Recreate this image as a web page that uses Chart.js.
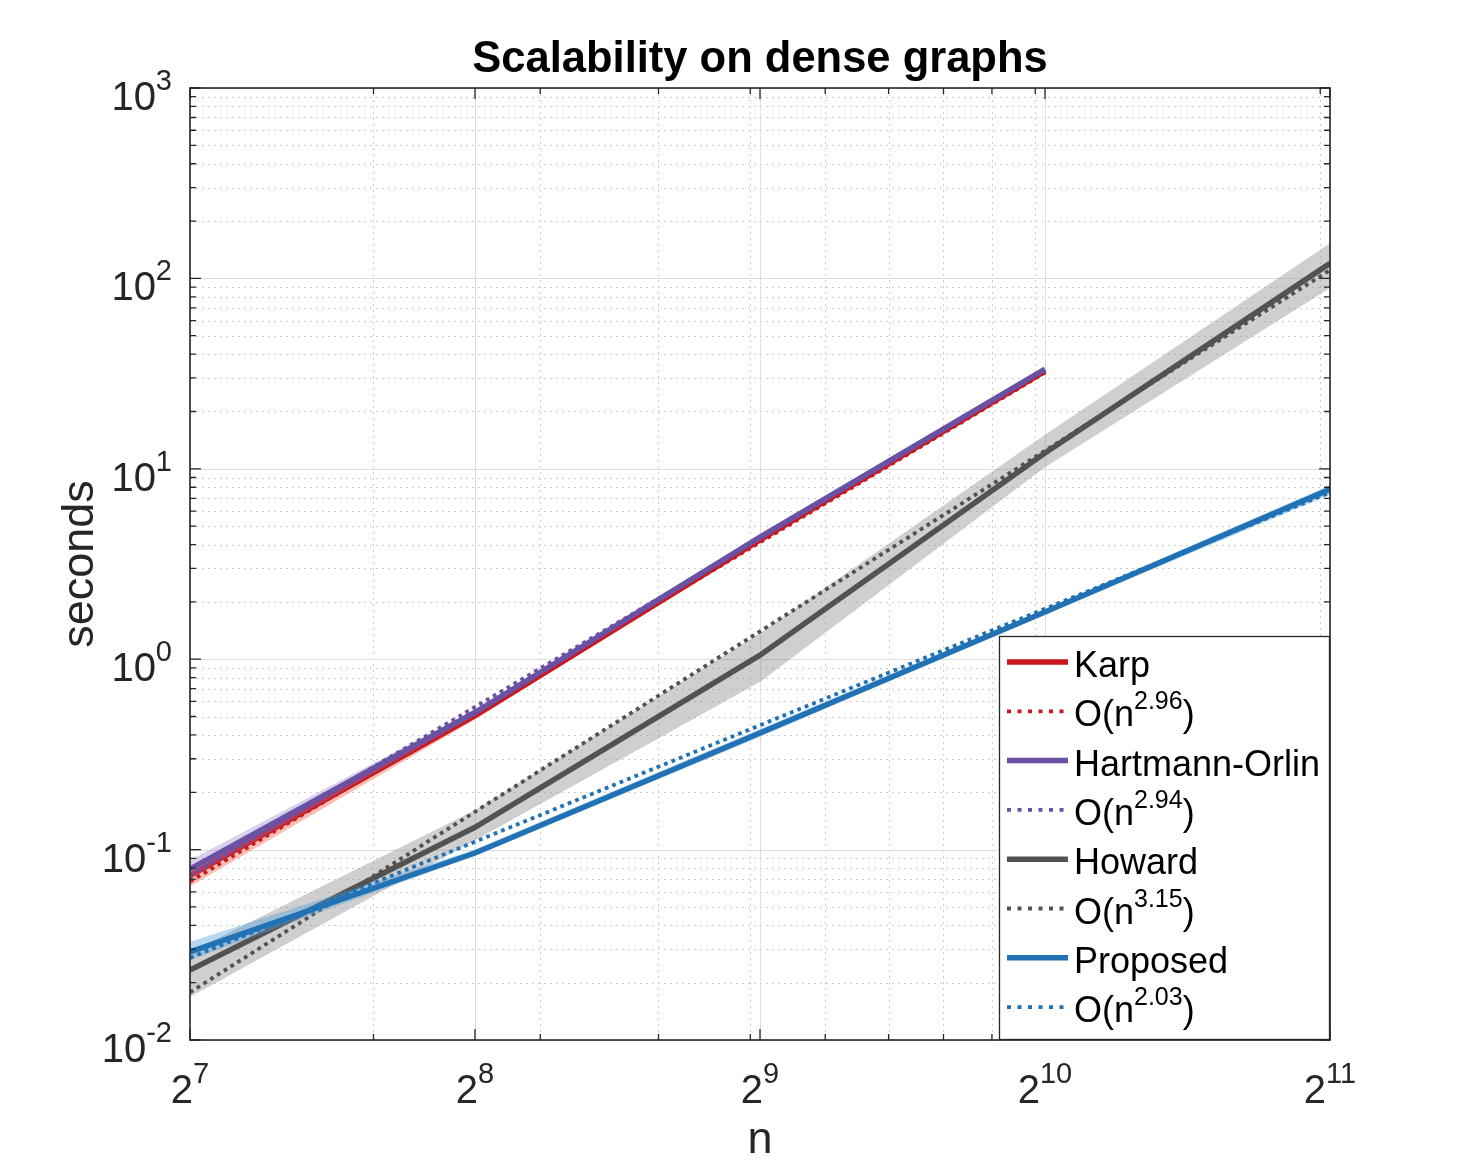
<!DOCTYPE html>
<html>
<head>
<meta charset="utf-8">
<title>Scalability on dense graphs</title>
<script src="https://cdn.jsdelivr.net/npm/chart.js@4.4.0/dist/chart.umd.min.js"></script>
<style>
  html, body { margin: 0; padding: 0; background: #fff; }
  #wrap { width: 1470px; height: 1168px; }
</style>
</head>
<body>
<div id="wrap"><canvas id="scalabilityChart" width="1470" height="1168"></canvas></div>
<script>
// graph sizes n and run times (seconds)
const sizes = [128, 256, 512, 1024, 2048];

const karpMean = [0.073, 0.505, 4.23, 32.6];
const karpLow = [0.064, 0.482, 4.10, 31.6];
const karpHigh = [0.080, 0.522, 4.34, 33.4];
const karpFit = [0.068, 0.529, 4.11, 32.0];

const hoMean = [0.079, 0.525, 4.38, 33.4];
const hoLow = [0.071, 0.505, 4.25, 32.5];
const hoHigh = [0.088, 0.545, 4.50, 34.4];
const hoFit = [0.0731, 0.561, 4.30, 33.0];

const howardMean = [0.0233, 0.131, 1.05, 12.1, 120];
const howardLow = [0.0168, 0.112, 0.76, 10.2, 89];
const howardHigh = [0.0290, 0.161, 1.37, 15.1, 153];
const howardFit = [0.0178, 0.158, 1.40, 12.45, 110.5];

const proposedMean = [0.029, 0.096, 0.41, 1.77, 7.8];
const proposedLow = [0.0263, 0.093, 0.39, 1.72, 7.3];
const proposedHigh = [0.0328, 0.100, 0.43, 1.83, 8.2];
const proposedFit = [0.027, 0.110, 0.450, 1.84, 7.51];

const legendLabels = ['Karp', 'O(n^{2.96})', 'Hartmann-Orlin', 'O(n^{2.94})',
                      'Howard', 'O(n^{3.15})', 'Proposed', 'O(n^{2.03})'];
const xTickExps = [7, 8, 9, 10, 11];
const yTickExps = [-2, -1, 0, 1, 2, 3];

const FONT = '"Liberation Sans", Arial, Helvetica, sans-serif';
const AXIS_COLOR = '#262626';

const toPoints = (vals) => vals.map((v, i) => ({ x: sizes[i], y: v }));

// upper edge + lower edge filled back to it
const band = (low, high, fillColor) => [
  { data: toPoints(high), showLine: true, borderWidth: 0, pointRadius: 0, fill: false, isBand: true },
  { data: toPoints(low), showLine: true, borderWidth: 0, pointRadius: 0, fill: '-1', backgroundColor: fillColor, isBand: true }
];
const solid = (vals, color, label) => ({
  label: label, data: toPoints(vals), showLine: true, borderColor: color, borderWidth: 5.5,
  pointRadius: 0, fill: false
});
const dotted = (vals, color, label) => ({
  label: label, data: toPoints(vals), showLine: true, borderColor: color, borderWidth: 3.8,
  borderDash: [3.8, 4.2], borderCapStyle: 'butt', pointRadius: 0, fill: false
});

const datasets = [
  ...band(karpLow, karpHigh, 'rgba(246, 110, 90, 0.45)'),
  solid(karpMean, '#CB181D', legendLabels[0]),
  dotted(karpFit, '#CB181D', legendLabels[1]),
  ...band(hoLow, hoHigh, 'rgba(140, 120, 200, 0.35)'),
  solid(hoMean, '#6A51A3', legendLabels[2]),
  dotted(hoFit, '#6A51A3', legendLabels[3]),
  ...band(howardLow, howardHigh, 'rgba(140, 140, 140, 0.42)'),
  solid(howardMean, '#525252', legendLabels[4]),
  dotted(howardFit, '#525252', legendLabels[5]),
  ...band(proposedLow, proposedHigh, 'rgba(80, 160, 220, 0.4)'),
  solid(proposedMean, '#2171B5', legendLabels[6]),
  dotted(proposedFit, '#2171B5', legendLabels[7])
];
// later datasets on top, like the plotting order
datasets.forEach((d, i) => { d.order = 1000 - i; d.clip = 0; });

// label like 'O(n^{2.96})' -> pieces with superscript flag
function splitSup(text) {
  const parts = [];
  const re = /\^\{([^}]*)\}/g;
  let last = 0, m;
  while ((m = re.exec(text)) !== null) {
    if (m.index > last) parts.push({ t: text.slice(last, m.index), sup: false });
    parts.push({ t: m[1], sup: true });
    last = re.lastIndex;
  }
  if (last < text.length) parts.push({ t: text.slice(last), sup: false });
  return parts;
}

function richWidth(ctx, parts, baseFont, supFont) {
  let w = 0;
  parts.forEach(p => { ctx.font = p.sup ? supFont : baseFont; w += ctx.measureText(p.t).width; });
  return w;
}

function drawRich(ctx, parts, x, y, baseFont, supFont, rise) {
  ctx.textAlign = 'left';
  ctx.textBaseline = 'alphabetic';
  parts.forEach(p => {
    ctx.font = p.sup ? supFont : baseFont;
    ctx.fillText(p.t, x, p.sup ? y - rise : y);
    x += ctx.measureText(p.t).width;
  });
}

function minorValues(lo, hi, decades) {
  const out = [];
  decades.forEach(d => {
    for (let m = 1; m <= 9; m++) {
      const v = m * d;
      if (v > lo && v < hi) out.push(v);
    }
  });
  return out;
}

const matlabAxes = {
  id: 'matlabAxes',
  beforeDatasetsDraw(chart) {
    const { ctx, chartArea: a, scales: { x, y } } = chart;
    const xMajor = xTickExps.map(e => Math.pow(2, e));
    const yMajor = yTickExps.map(e => Math.pow(10, e));
    const xMinor = minorValues(128, 2048, [100, 1000]).filter(v => !xMajor.includes(v));
    const yMinor = minorValues(0.01, 1000, [0.01, 0.1, 1, 10, 100]).filter(v => !yMajor.includes(v));
    ctx.save();
    ctx.lineWidth = 1;
    ctx.strokeStyle = '#cdcdcd';
    ctx.setLineDash([2, 4]);
    ctx.beginPath();
    xMinor.forEach(v => { const p = Math.round(x.getPixelForValue(v)) + 0.5; ctx.moveTo(p, a.top); ctx.lineTo(p, a.bottom); });
    yMinor.forEach(v => { const p = Math.round(y.getPixelForValue(v)) + 0.5; ctx.moveTo(a.left, p); ctx.lineTo(a.right, p); });
    ctx.stroke();
    ctx.setLineDash([]);
    ctx.strokeStyle = '#dedede';
    ctx.beginPath();
    xMajor.forEach(v => { const p = Math.round(x.getPixelForValue(v)) + 0.5; ctx.moveTo(p, a.top); ctx.lineTo(p, a.bottom); });
    yMajor.forEach(v => { const p = Math.round(y.getPixelForValue(v)) + 0.5; ctx.moveTo(a.left, p); ctx.lineTo(a.right, p); });
    ctx.stroke();
    ctx.restore();
  },
  afterDatasetsDraw(chart) {
    const { ctx, chartArea: a, scales: { x, y } } = chart;
    const xMajor = xTickExps.map(e => Math.pow(2, e));
    const yMajor = yTickExps.map(e => Math.pow(10, e));
    const xMinor = minorValues(128, 2048, [100, 1000]).filter(v => !xMajor.includes(v));
    const yMinor = minorValues(0.01, 1000, [0.01, 0.1, 1, 10, 100]).filter(v => !yMajor.includes(v));
    ctx.save();
    ctx.strokeStyle = AXIS_COLOR;
    ctx.lineWidth = 1.3;
    ctx.beginPath();
    const xt = (v, len) => { const p = x.getPixelForValue(v);
      ctx.moveTo(p, a.bottom); ctx.lineTo(p, a.bottom - len);
      ctx.moveTo(p, a.top); ctx.lineTo(p, a.top + len); };
    const yt = (v, len) => { const p = y.getPixelForValue(v);
      ctx.moveTo(a.left, p); ctx.lineTo(a.left + len, p);
      ctx.moveTo(a.right, p); ctx.lineTo(a.right - len, p); };
    xMajor.forEach(v => xt(v, 11));
    xMinor.forEach(v => xt(v, 6));
    yMajor.forEach(v => yt(v, 11));
    yMinor.forEach(v => yt(v, 6));
    ctx.stroke();
    ctx.lineWidth = 1.6;
    ctx.strokeRect(a.left, a.top, a.right - a.left, a.bottom - a.top);

    // legend box, bottom right inside the axes
    const boxW = 331, boxH = 404;
    const bx = a.right - boxW, by = a.bottom - boxH;
    ctx.fillStyle = '#ffffff';
    ctx.fillRect(bx, by, boxW, boxH);
    ctx.lineWidth = 1.3;
    ctx.strokeRect(bx + 0.5, by + 0.5, boxW - 1, boxH - 1);
    const entries = chart.data.datasets.filter(d => !d.isBand);
    const baseFont = '36px ' + FONT, supFont = '25px ' + FONT;
    entries.forEach((d, i) => {
      const cy = by + 26 + i * 49.3;
      ctx.save();
      ctx.strokeStyle = d.borderColor;
      ctx.lineWidth = d.borderDash ? 3.8 : 5.5;
      ctx.lineCap = 'butt';
      ctx.setLineDash(d.borderDash ? [4, 6.5] : []);
      ctx.beginPath();
      ctx.moveTo(bx + 8, cy);
      ctx.lineTo(bx + 69, cy);
      ctx.stroke();
      ctx.restore();
      ctx.fillStyle = '#000000';
      drawRich(ctx, splitSup(d.label), bx + 75, cy + 15, baseFont, supFont, 17);
    });
    ctx.restore();
  },
  afterDraw(chart) {
    const { ctx, chartArea: a, scales: { x, y } } = chart;
    const cx = (a.left + a.right) / 2;
    ctx.save();
    ctx.fillStyle = AXIS_COLOR;
    const tickFont = '40px ' + FONT, expFont = '29px ' + FONT;
    yTickExps.forEach(e => {
      const p = y.getPixelForValue(Math.pow(10, e));
      const parts = [{ t: '10', sup: false }, { t: String(e), sup: true }];
      const w = richWidth(ctx, parts, tickFont, expFont);
      drawRich(ctx, parts, a.left - 18 - w, p + 22, tickFont, expFont, 20);
    });
    xTickExps.forEach(e => {
      const p = x.getPixelForValue(Math.pow(2, e));
      const parts = [{ t: '2', sup: false }, { t: String(e), sup: true }];
      const w = richWidth(ctx, parts, tickFont, expFont);
      drawRich(ctx, parts, p - w / 2, a.bottom + 63, tickFont, expFont, 20);
    });

    ctx.textAlign = 'center';
    ctx.textBaseline = 'alphabetic';
    ctx.font = '45px ' + FONT;
    ctx.fillText('n', cx, a.bottom + 113);
    ctx.save();
    ctx.translate(93, (a.top + a.bottom) / 2);
    ctx.rotate(-Math.PI / 2);
    ctx.fillText('seconds', 0, 0);
    ctx.restore();

    ctx.fillStyle = '#000000';
    ctx.font = 'bold 43.5px ' + FONT;
    ctx.fillText('Scalability on dense graphs', cx, a.top - 16);
    ctx.restore();
  }
};

new Chart(document.getElementById('scalabilityChart'), {
  type: 'scatter',
  data: { datasets: datasets },
  options: {
    responsive: false,
    animation: false,
    layout: { padding: { top: 88, right: 140, left: 0, bottom: 0 } },
    plugins: {
      legend: { display: false },
      title: { display: false },
      tooltip: { enabled: false }
    },
    elements: { line: { tension: 0 } },
    scales: {
      x: {
        type: 'logarithmic', min: 128, max: 2048,
        grid: { display: false }, border: { display: false }, ticks: { display: false },
        afterFit(scale) { scale.height = 128; }
      },
      y: {
        type: 'logarithmic', min: 0.01, max: 1000,
        grid: { display: false }, border: { display: false }, ticks: { display: false },
        afterFit(scale) { scale.width = 190; }
      }
    }
  },
  plugins: [matlabAxes]
});
</script>
</body>
</html>
